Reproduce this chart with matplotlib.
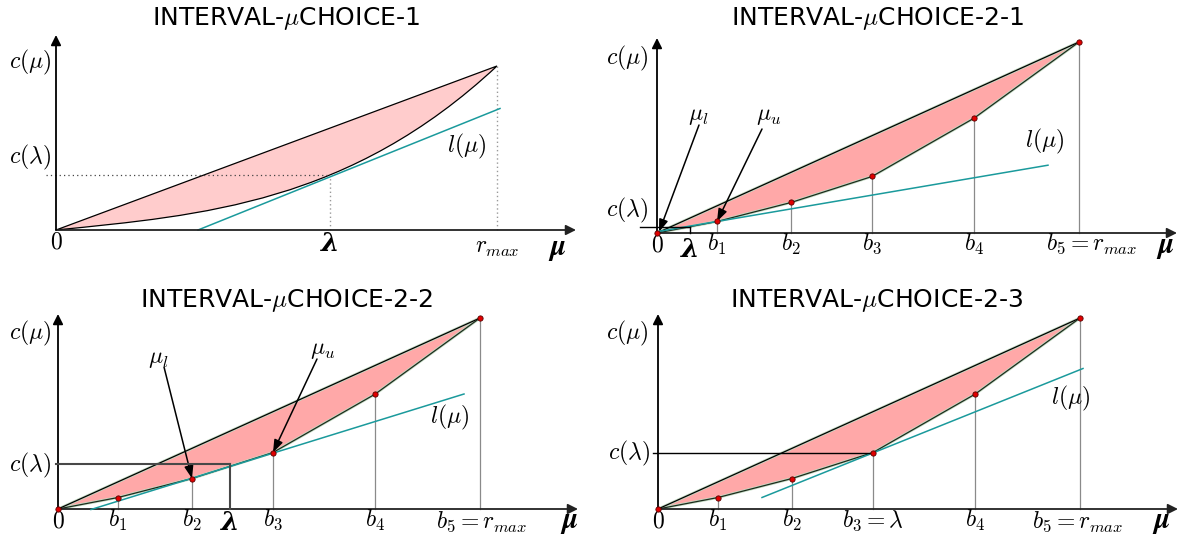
import matplotlib.pyplot as plt
from matplotlib.path import Path
from matplotlib.patches import PathPatch, Polygon

plt.rcParams['mathtext.fontset'] = 'cm'
plt.rcParams['font.family'] = 'DejaVu Sans'

# breakpoints b1..b5 of the piecewise linear cost and c(b_i)
b = [60, 134, 215, 317, 422]
c_b = [11.5, 30.5, 56.5, 114.8, 191]
b_labels = [r'$b_1$', r'$b_2$', r'$b_3$', r'$b_4$', r'$b_5 = r_{max}$']

# convex cost of the first case (cubic Bezier control points)
curve_mu = [0, 147, 294, 441]
curve_c = [0, 14.7, 26.9, 164]
r_max_1 = 441
lam_1, c_lam_1 = 274, 54.5
l_mu_1 = ([142, 444], [0, 121.5])

# case 2-1: lambda below b1
lam_21, c_lam_21 = 33, 5.6
l_mu_21 = ([0, 391], [1.3, 67.8])

# case 2-2: lambda between b2 and b3
lam_22, c_lam_22 = 172, 45
l_mu_22 = ([33, 406], [-0.5, 115])

# case 2-3: lambda equal to b3
lam_23, c_lam_23 = b[2], c_b[2]
l_mu_23 = ([104, 425], [11.5, 140.5])

titles = [r'INTERVAL-$\mu$CHOICE-1', r'INTERVAL-$\mu$CHOICE-2-1',
          r'INTERVAL-$\mu$CHOICE-2-2', r'INTERVAL-$\mu$CHOICE-2-3']

W, H = 1182, 537
fig = plt.figure(figsize=(W / 100, H / 100), dpi=100)

TEAL = '#1a9a9c'
FS = 17


def panel(box, origin):
    # axes in pixel-sized units with (0, 0) at the plot origin
    left, top, w, h = box
    ox, oy = origin
    ax = fig.add_axes([left / W, 1 - (top + h) / H, w / W, h / H])
    ax.set_xlim(left - ox, left + w - ox)
    ax.set_ylim(oy - top - h, oy - top)
    ax.axis('off')
    return ax


def label(ax, x, y, s, size=FS):
    ax.text(x, y, s, ha='center', va='center', fontsize=size)


def bold_lambda(ax, x, y):
    ax.text(x, y, 'λ', ha='center', va='center', fontsize=19,
            family='DejaVu Serif', weight='bold', style='italic')


def frame(ax, title, title_xy):
    ap = dict(arrowstyle='-|>', lw=1.3, mutation_scale=15, shrinkA=0, shrinkB=0)
    ax.annotate('', xy=(520, 0), xytext=(0, 0), arrowprops=dict(ap, color='#222222'))
    ax.annotate('', xy=(0, 195), xytext=(0, 0), arrowprops=dict(ap, color='black'))
    ax.text(title_xy[0], title_xy[1], title, ha='center', va='center', fontsize=18)
    label(ax, 0, -12, r'$0$')


def pointer(ax, text, text_xy, start, end):
    label(ax, text_xy[0], text_xy[1], text)
    ax.annotate('', xy=end, xytext=start,
                arrowprops=dict(arrowstyle='-|>,head_length=0.5,head_width=0.18',
                                color='black', lw=1.1, mutation_scale=15,
                                shrinkA=0, shrinkB=0))


def piecewise(ax):
    us = [0] + b
    cs = [0] + c_b
    ax.add_patch(Polygon(list(zip(us, cs)), closed=True, facecolor='#ffa8a8',
                         edgecolor='#c4dcc4', lw=2.0, zorder=2))
    ax.plot([0, b[-1]], [0, c_b[-1]], color='black', lw=0.9, zorder=3)
    ax.plot(us, cs, color='#1c2a1c', lw=0.9, zorder=3)
    for u, c in zip(b, c_b):
        ax.plot([u, u], [0, c], color='#8a8a8a', lw=0.9, zorder=1)
    ax.plot(us, cs, 'o', ms=3.8, mfc='#e00000', mec='#5a0000', mew=0.6, zorder=5)


# ---- INTERVAL-muCHOICE-1 ----
ax = panel((0, 0, 591, 268), (56, 230))
path = Path([(0, 0), (curve_mu[3], curve_c[3]),
             (curve_mu[2], curve_c[2]), (curve_mu[1], curve_c[1]), (0, 0), (0, 0)],
            [Path.MOVETO, Path.LINETO, Path.CURVE4, Path.CURVE4, Path.CURVE4,
             Path.CLOSEPOLY])
ax.add_patch(PathPatch(path, facecolor='#ffcccc', edgecolor='black', lw=0.9, zorder=2))
ax.plot(l_mu_1[0], l_mu_1[1], color=TEAL, lw=1.1, zorder=3)
ax.plot([-10, lam_1], [c_lam_1, c_lam_1], color='#444444', lw=0.9, ls=(0, (1, 2.5)))
ax.plot([lam_1, lam_1], [0, c_lam_1], color='#999999', lw=1.0, ls=(0, (1, 2)))
ax.plot([r_max_1, r_max_1], [0, curve_c[3]], color='#999999', lw=1.0, ls=(0, (1, 2)))
frame(ax, titles[0], (230, 212))
label(ax, -26, 168, r'$c(\mu)$')
label(ax, -26, 73, r'$c(\lambda)$')
bold_lambda(ax, lam_1, -14)
label(ax, r_max_1, -17, r'$r_{max}$')
label(ax, 501, -19, r'$\boldsymbol{\mu}$', 21)
label(ax, 411, 84, r'$l(\mu)$')

# ---- INTERVAL-muCHOICE-2-1 ----
ax = panel((591, 0, 591, 268), (657, 233))
piecewise(ax)
ax.plot(l_mu_21[0], l_mu_21[1], color=TEAL, lw=1.1, zorder=4)
ax.plot([-17, lam_21], [c_lam_21, c_lam_21], color='black', lw=1.0, zorder=4)
ax.plot([lam_21, lam_21], [0, c_lam_21], color='black', lw=1.0, zorder=4)
frame(ax, titles[1], (220, 215))
label(ax, -30, 175, r'$c(\mu)$')
label(ax, -30, 23, r'$c(\lambda)$')
bold_lambda(ax, lam_21, -17)
for i in range(4):
    label(ax, b[i], -11, b_labels[i])
label(ax, 435, -11, b_labels[4])
label(ax, 508, -14, r'$\boldsymbol{\mu}$', 21)
label(ax, 388, 92, r'$l(\mu)$')
pointer(ax, r'$\mu_l$', (41, 118), (42, 108), (2, 1))
pointer(ax, r'$\mu_u$', (112, 118), (105, 104), (b[0], c_b[0]))

# ---- INTERVAL-muCHOICE-2-2 ----
ax = panel((0, 268, 591, 269), (58, 509))
piecewise(ax)
ax.plot(l_mu_22[0], l_mu_22[1], color=TEAL, lw=1.1, zorder=4)
ax.plot([-2, lam_22], [c_lam_22, c_lam_22], color='#484848', lw=1.5, zorder=4)
ax.plot([lam_22, lam_22], [0, c_lam_22], color='#484848', lw=1.5, zorder=4)
frame(ax, titles[2], (228, 209))
label(ax, -28, 176, r'$c(\mu)$')
label(ax, -28, 44, r'$c(\lambda)$')
bold_lambda(ax, lam_22, -14)
for i in range(4):
    label(ax, b[i], -11, b_labels[i])
label(ax, 424, -13, b_labels[4])
label(ax, 511, -13, r'$\boldsymbol{\mu}$', 21)
label(ax, 392, 92, r'$l(\mu)$')
pointer(ax, r'$\mu_l$', (100, 151), (106, 142), (b[1], c_b[1]))
pointer(ax, r'$\mu_u$', (265, 160), (259, 150), (b[2], c_b[2]))

# ---- INTERVAL-muCHOICE-2-3 ----
ax = panel((591, 268, 591, 269), (658, 509))
piecewise(ax)
ax.plot(l_mu_23[0], l_mu_23[1], color=TEAL, lw=1.1, zorder=4)
ax.plot([-5, lam_23], [c_lam_23, c_lam_23], color='black', lw=1.0, zorder=4)
frame(ax, titles[3], (219, 209))
label(ax, -31, 176, r'$c(\mu)$')
label(ax, -29, 56, r'$c(\lambda)$')
for i in [0, 1, 3]:
    label(ax, b[i], -11, b_labels[i])
label(ax, lam_23, -12, r'$b_3 = \lambda$')
label(ax, 420, -13, b_labels[4])
label(ax, 503, -13, r'$\boldsymbol{\mu}$', 21)
label(ax, 413, 111, r'$l(\mu)$')

fig.savefig('out.png', dpi=100)
